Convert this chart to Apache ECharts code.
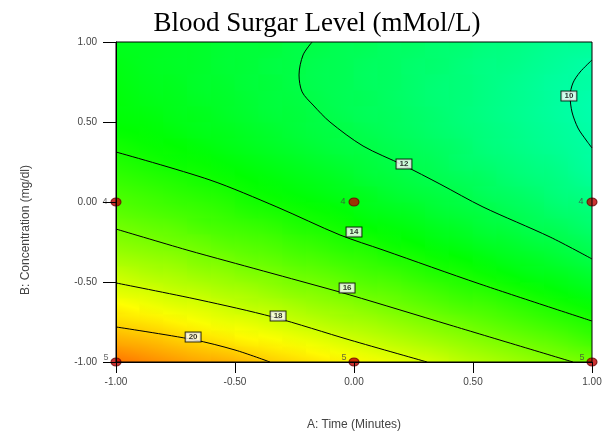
<!DOCTYPE html>
<html><head><meta charset="utf-8">
<script src="https://cdn.jsdelivr.net/npm/echarts@6/dist/echarts.min.js"></script>
<style>html,body{margin:0;padding:0;background:#fff}#c{width:605px;height:432px}</style>
</head><body><div id="c"></div>
<script>
const titleText = 'Blood Surgar Level (mMol/L)';
const xName = 'A: Time (Minutes)';
const yName = 'B: Concentration (mg/dl)';

// cell centres of the response field (A across, B up)
const cellA = [-0.95,-0.85,-0.75,-0.65,-0.55,-0.45,-0.35,-0.25,-0.15,-0.05,0.05,0.15,0.25,0.35,0.45,0.55,0.65,0.75,0.85,0.95];
const cellB = [-0.95,-0.85,-0.75,-0.65,-0.55,-0.45,-0.35,-0.25,-0.15,-0.05,0.05,0.15,0.25,0.35,0.45,0.55,0.65,0.75,0.85,0.95];
// estimated blood sugar level per cell, one row per B (bottom to top)
const fieldRows = [
  [21.4,21.1,20.8,20.5,20.3,20.0,19.7,19.4,19.1,18.8,18.5,18.2,17.9,17.6,17.2,16.9,16.6,16.3,16.0,15.7],
  [20.5,20.3,20.0,19.7,19.4,19.1,18.9,18.6,18.3,18.0,17.7,17.4,17.1,16.8,16.5,16.2,15.9,15.6,15.3,14.9],
  [19.7,19.5,19.2,18.9,18.6,18.4,18.1,17.8,17.5,17.2,17.0,16.7,16.4,16.1,15.8,15.5,15.2,14.9,14.6,14.3],
  [19.0,18.7,18.4,18.2,17.9,17.6,17.4,17.1,16.8,16.6,16.3,16.0,15.7,15.4,15.1,14.9,14.6,14.3,14.0,13.7],
  [18.2,18.0,17.7,17.5,17.2,17.0,16.7,16.4,16.2,15.9,15.6,15.4,15.1,14.8,14.5,14.3,14.0,13.7,13.4,13.1],
  [17.6,17.3,17.1,16.8,16.6,16.3,16.1,15.8,15.6,15.3,15.0,14.8,14.5,14.2,14.0,13.7,13.4,13.1,12.9,12.6],
  [16.9,16.7,16.5,16.2,16.0,15.7,15.5,15.2,15.0,14.7,14.5,14.2,14.0,13.7,13.5,13.2,12.9,12.7,12.4,12.1],
  [16.3,16.1,15.9,15.7,15.4,15.2,15.0,14.7,14.5,14.2,14.0,13.7,13.5,13.2,13.0,12.7,12.5,12.2,12.0,11.7],
  [15.8,15.6,15.4,15.1,14.9,14.7,14.5,14.2,14.0,13.8,13.5,13.3,13.1,12.8,12.6,12.3,12.1,11.8,11.6,11.3],
  [15.3,15.1,14.9,14.7,14.5,14.2,14.0,13.8,13.6,13.4,13.1,12.9,12.7,12.4,12.2,12.0,11.7,11.5,11.2,11.0],
  [14.9,14.7,14.5,14.3,14.1,13.8,13.6,13.4,13.2,13.0,12.8,12.5,12.3,12.1,11.9,11.6,11.4,11.2,10.9,10.7],
  [14.5,14.3,14.1,13.9,13.7,13.5,13.3,13.1,12.9,12.7,12.4,12.2,12.0,11.8,11.6,11.4,11.1,10.9,10.7,10.4],
  [14.1,13.9,13.7,13.6,13.4,13.2,13.0,12.8,12.6,12.4,12.2,12.0,11.8,11.6,11.3,11.1,10.9,10.7,10.5,10.2],
  [13.8,13.6,13.5,13.3,13.1,12.9,12.7,12.5,12.3,12.1,12.0,11.8,11.6,11.4,11.2,10.9,10.7,10.5,10.3,10.1],
  [13.5,13.4,13.2,13.0,12.9,12.7,12.5,12.3,12.1,12.0,11.8,11.6,11.4,11.2,11.0,10.8,10.6,10.4,10.2,10.0],
  [13.3,13.2,13.0,12.9,12.7,12.5,12.3,12.2,12.0,11.8,11.6,11.5,11.3,11.1,10.9,10.7,10.5,10.3,10.1,9.9],
  [13.2,13.0,12.9,12.7,12.6,12.4,12.2,12.1,11.9,11.7,11.6,11.4,11.2,11.0,10.9,10.7,10.5,10.3,10.1,9.9],
  [13.1,12.9,12.8,12.6,12.5,12.3,12.2,12.0,11.8,11.7,11.5,11.4,11.2,11.0,10.9,10.7,10.5,10.3,10.1,10.0],
  [13.0,12.8,12.7,12.6,12.4,12.3,12.1,12.0,11.8,11.7,11.5,11.4,11.2,11.1,10.9,10.7,10.6,10.4,10.2,10.0],
  [12.9,12.8,12.7,12.6,12.4,12.3,12.2,12.0,11.9,11.7,11.6,11.4,11.3,11.1,11.0,10.8,10.7,10.5,10.3,10.2]
];

// contour lines, [A, B]
const contour10 = [[1,0.8875],[0.95,0.8125],[0.92,0.744],[0.908,0.6625],[0.916,0.5625],[0.941,0.4625],[0.975,0.3875],[1,0.3375]];
const contour12 = [[-0.176,1],[-0.214,0.919],[-0.231,0.794],[-0.218,0.688],[-0.172,0.606],[-0.101,0.5],[0.038,0.35],[0.206,0.231],[0.361,0.1125],[0.542,-0.031],[0.824,-0.219],[1,-0.356]];
const contour14 = [[-1,0.3125],[-0.605,0.1375],[-0.324,-0.031],[-0.059,-0.206],[0.122,-0.3],[0.529,-0.5125],[1,-0.744]];
const contour16 = [[-1,-0.169],[-0.702,-0.3],[-0.534,-0.369],[-0.227,-0.494],[-0.017,-0.581],[0.403,-0.769],[0.92,-1]];
const contour18 = [[-1,-0.506],[-0.647,-0.6125],[-0.34,-0.719],[-0.017,-0.8625],[0.307,-1]];
const contour20 = [[-1,-0.781],[-0.676,-0.86],[-0.5,-0.925],[-0.353,-1]];
const contourLevels = ['10','12','14','16','18','20'];
const contourLabelA = [0.903, 0.21, 0, -0.029, -0.319, -0.676];
const contourLabelB = [0.6625, 0.2375, -0.1875, -0.5375, -0.7125, -0.844];

// design points
const designA = [-1, 0, 1, -1, 0, 1];
const designB = [0, 0, 0, -1, -1, -1];
const designRuns = ['4', '4', '4', '5', '5', '5'];

// colour ramp (Design-Expert style): blue, cyan, green, yellow, red
const rampValues = [2.5, 8, 13.5, 19, 24.5];
const rampColors = [[0,0,255],[0,255,255],[0,255,0],[255,255,0],[255,0,0]];
function rampColor(v) {
  let k = 0;
  while (k < rampValues.length - 2 && v > rampValues[k + 1]) k++;
  let t = (v - rampValues[k]) / (rampValues[k + 1] - rampValues[k]);
  t = Math.max(0, Math.min(1, t));
  const c0 = rampColors[k], c1 = rampColors[k + 1];
  const c = c0.map((x, n) => Math.round(x + (c1[n] - x) * t));
  return 'rgb(' + c.join(',') + ')';
}

const halfA = 0.05, halfB = 0.05;
const cellData = [];
fieldRows.forEach((row, j) => row.forEach((v, i) => cellData.push([cellA[i], cellB[j], v, i, j])));

function renderCell(params, api) {
  const a = api.value(0), b = api.value(1), v = api.value(2);
  const i = api.value(3), j = api.value(4);
  const p0 = api.coord([a - halfA, b - halfB]);
  const p1 = api.coord([a + halfA, b + halfB]);
  const x0 = Math.min(p0[0], p1[0]), x1 = Math.max(p0[0], p1[0]);
  const y0 = Math.min(p0[1], p1[1]), y1 = Math.max(p0[1], p1[1]);
  const w = x1 - x0, h = y1 - y0;
  const row = fieldRows[j];
  const il = Math.max(0, i - 1), ir = Math.min(row.length - 1, i + 1);
  const jd = Math.max(0, j - 1), ju = Math.min(fieldRows.length - 1, j + 1);
  const gx = (row[ir] - row[il]) / ((ir - il) * w);
  const gy = -(fieldRows[ju][i] - fieldRows[jd][i]) / ((ju - jd) * h);
  const g = Math.hypot(gx, gy) || 1e-9;
  const ux = gx / g, uy = gy / g;
  const L = Math.abs(ux) * w / 2 + Math.abs(uy) * h / 2 + 1;
  const cx = (x0 + x1) / 2, cy = (y0 + y1) / 2;
  const vs = v - g * L, ve = v + g * L;
  const stops = [0, 0.5, 1].map(t => ({ offset: t, color: rampColor(vs + (ve - vs) * t) }));
  return {
    type: 'rect',
    shape: { x: x0 - 0.4, y: y0 - 0.4, width: w + 0.8, height: h + 0.8 },
    style: { fill: new echarts.graphic.LinearGradient(cx - ux * L, cy - uy * L, cx + ux * L, cy + uy * L, stops, true), stroke: null }
  };
}

const axisFont = 'Liberation Sans, Arial, sans-serif';

function contourSeries(pts) {
  return {
    type: 'line', data: pts,
    showSymbol: false, smooth: 0.3, silent: true, z: 3,
    lineStyle: { color: '#000', width: 1 }
  };
}

const chart = echarts.init(document.getElementById('c'), null, { renderer: 'canvas' });
chart.setOption({
  animation: false,
  backgroundColor: '#fff',
  title: {
    text: titleText, left: 312, top: 5, textAlign: 'center',
    textStyle: { fontFamily: 'Liberation Serif, Times New Roman, serif', fontSize: 27, fontWeight: 'normal', color: '#000' }
  },
  grid: {
    left: 116, top: 42, width: 476, height: 320, outerBoundsMode: 'none', containLabel: false,
    show: true, borderColor: '#000', borderWidth: 1, backgroundColor: 'transparent', z: 10
  },
  xAxis: {
    type: 'value', min: -1, max: 1, interval: 0.5, z: 10,
    name: xName, nameLocation: 'middle', nameGap: 57,
    nameTextStyle: { fontFamily: axisFont, fontSize: 12, color: '#444' },
    axisLine: { show: true, onZero: false, lineStyle: { color: '#000', width: 1 } },
    axisTick: { show: true, length: 11, lineStyle: { color: '#000' } },
    axisLabel: { margin: 15, fontFamily: axisFont, fontSize: 10, color: '#444', formatter: v => v.toFixed(2) },
    splitLine: { show: false }
  },
  yAxis: {
    type: 'value', min: -1, max: 1, interval: 0.5, z: 10,
    name: yName, nameLocation: 'middle', nameGap: 84,
    nameTextStyle: { fontFamily: axisFont, fontSize: 12, color: '#444', padding: [0, 56, 0, 0] },
    axisLine: { show: true, onZero: false, lineStyle: { color: '#000', width: 1 } },
    axisTick: { show: true, length: 13, lineStyle: { color: '#000' } },
    axisLabel: { margin: 19, fontFamily: axisFont, fontSize: 10, color: '#444', formatter: v => v.toFixed(2) },
    splitLine: { show: false }
  },
  series: [
    {
      type: 'custom', data: cellData, renderItem: renderCell, silent: true, clip: true, z: 1,
      encode: { x: 0, y: 1 }
    },
    contourSeries(contour10),
    contourSeries(contour12),
    contourSeries(contour14),
    contourSeries(contour16),
    contourSeries(contour18),
    contourSeries(contour20),
    {
      type: 'scatter', silent: true, z: 5,
      symbolSize: 1, itemStyle: { color: 'rgba(0,0,0,0)' },
      data: contourLevels.map((lv, k) => [contourLabelA[k], contourLabelB[k], lv]),
      label: {
        show: true, position: 'inside', formatter: p => p.value[2],
        fontFamily: axisFont, fontSize: 8, fontWeight: 'bold', color: '#000',
        backgroundColor: '#fff', borderColor: '#000', borderWidth: 1, padding: [1, 3, 0, 3]
      }
    },
    {
      type: 'scatter', silent: true, z: 6, clip: false,
      symbol: 'circle', symbolSize: [10, 8],
      itemStyle: { color: '#c00000', borderColor: '#6a0000', borderWidth: 1 },
      data: designA.map((a, k) => ({
        value: [a, designB[k], designRuns[k]],
        label: designB[k] === -1 ? { offset: [1, -4] } : {}
      })),
      label: {
        show: true, position: 'left', distance: 3, formatter: p => p.value[2],
        fontFamily: axisFont, fontSize: 9, color: '#444'
      }
    }
  ]
});
</script>
</body></html>
